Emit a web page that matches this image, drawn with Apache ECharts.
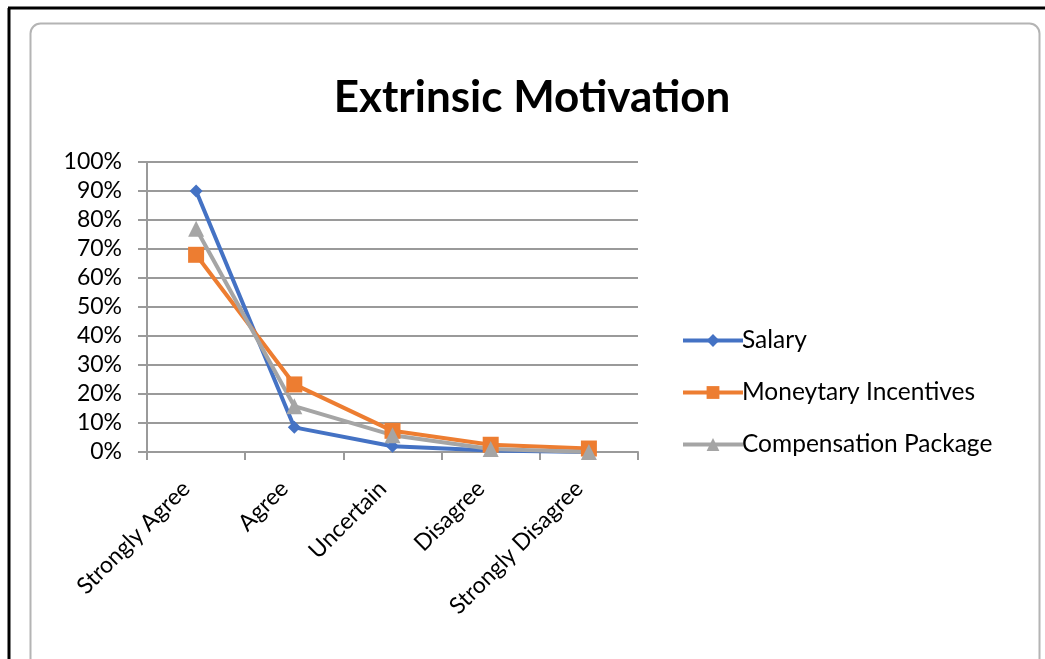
<!DOCTYPE html>
<html>
<head>
<meta charset="utf-8">
<script src="https://cdn.jsdelivr.net/npm/echarts@6/dist/echarts.min.js"></script>
<style>
  html, body { margin: 0; padding: 0; background: #fff; }
  #chart { width: 1045px; height: 659px; }
</style>
</head>
<body>
<div id="chart"></div>
<script>
  // survey answers, % of respondents
  var categories = ['Strongly Agree', 'Agree', 'Uncertain', 'Disagree', 'Strongly Disagree'];
  var salary = [90, 8.5, 2, 0.5, 0];
  var moneytary = [68, 23.3, 7.3, 2.5, 1.2];
  var compensation = [77, 15.8, 5.8, 1, 0];
  var yTicks = [0, 10, 20, 30, 40, 50, 60, 70, 80, 90, 100];

  var font = 'Lato, "Open Sans", sans-serif';
  var myChart = echarts.init(document.getElementById('chart'));

  myChart.setOption({
    animation: false,
    backgroundColor: '#fff',
    graphic: [
      // black frame of the screenshot
      { type: 'line', shape: { x1: 8, y1: 8, x2: 1045, y2: 8 }, style: { stroke: '#000', lineWidth: 3 } },
      { type: 'line', shape: { x1: 9, y1: 8, x2: 9, y2: 659 }, style: { stroke: '#000', lineWidth: 3 } },
      // rounded chart area border
      { type: 'rect', shape: { x: 30.5, y: 23.5, width: 1009, height: 700, r: 10 },
        style: { fill: 'none', stroke: '#b4b4b4', lineWidth: 2 } }
    ],
    title: {
      text: 'Extrinsic Motivation',
      left: 527,
      textAlign: 'center',
      top: 71,
      textStyle: { fontFamily: font, fontWeight: 'bold', fontSize: 44, color: '#000' }
    },
    legend: {
      orient: 'vertical',
      left: 676,
      top: 323,
      itemGap: 27,
      itemWidth: 60,
      itemHeight: 16,
      lineStyle: { width: 4 },
      textStyle: { fontFamily: font, fontSize: 24.5, color: '#000', padding: [0, 0, 0, -6] },
      data: ['Salary', 'Moneytary Incentives', 'Compensation Package']
    },
    grid: { left: 147, right: 407, top: 162, bottom: 207 },
    xAxis: {
      type: 'category',
      data: categories,
      boundaryGap: true,
      axisLine: { lineStyle: { color: '#9a9a9a', width: 2 } },
      axisTick: { show: true, length: 8, lineStyle: { color: '#9a9a9a', width: 2 } },
      axisLabel: {
        rotate: 45, margin: 23, padding: [0, 14, 0, 0],
        fontFamily: font, fontSize: 23, color: '#000'
      }
    },
    yAxis: {
      type: 'value',
      min: 0,
      max: 100,
      interval: 10,
      axisLine: { show: true, lineStyle: { color: '#9a9a9a', width: 2 } },
      axisTick: { show: true, inside: false, length: 9, lineStyle: { color: '#9a9a9a', width: 2 } },
      splitLine: { show: true, lineStyle: { color: '#9a9a9a', width: 2 } },
      axisLabel: {
        margin: 25,
        fontFamily: font, fontSize: 23, color: '#000',
        formatter: function (v) { return yTicks.indexOf(v) >= 0 ? v + '%' : ''; }
      }
    },
    series: [
      {
        name: 'Salary', type: 'line', data: salary,
        symbol: 'diamond', symbolSize: 13,
        lineStyle: { color: '#4472C4', width: 4 },
        itemStyle: { color: '#4472C4' }
      },
      {
        name: 'Moneytary Incentives', type: 'line', data: moneytary,
        symbol: 'rect', symbolSize: 16,
        lineStyle: { color: '#ED7D31', width: 4 },
        itemStyle: { color: '#ED7D31' }
      },
      {
        name: 'Compensation Package', type: 'line', data: compensation,
        symbol: 'triangle', symbolSize: 16,
        lineStyle: { color: '#A5A5A5', width: 4 },
        itemStyle: { color: '#A5A5A5' }
      }
    ]
  });
</script>
</body>
</html>
